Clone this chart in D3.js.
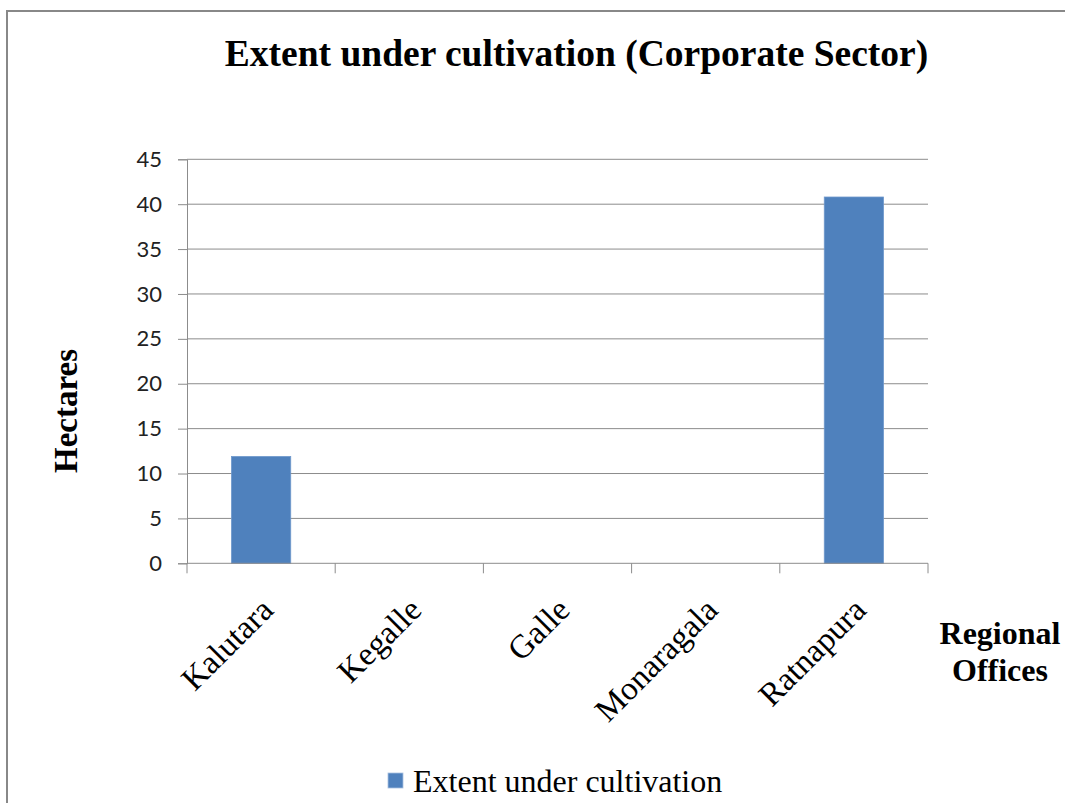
<!DOCTYPE html>
<html>
<head>
<meta charset="utf-8">
<script src="https://cdn.jsdelivr.net/npm/d3@7.9.0/dist/d3.min.js"></script>
<style>
    html, body { margin: 0; padding: 0; background: #fff; }
    svg { display: block; }
</style>
</head>
<body>
<div id="chart"></div>
<script>
const offices = ['Kalutara', 'Kegalle', 'Galle', 'Monaragala', 'Ratnapura'];
const hectares = [11.9, 0, 0, 0, 40.8];
const yTicks = [0, 5, 10, 15, 20, 25, 30, 35, 40, 45];

const width = 1065;
const height = 803;
const plot = { left: 187, right: 928, top: 159.3, bottom: 563.3 };
const barColor = '#4f81bd';
const gridColor = '#8c8c8c';
const serif = '"Liberation Serif", "Times New Roman", serif';

const svg = d3.select('#chart')
    .append('svg')
    .attr('width', width)
    .attr('height', height);

// chart frame
svg.append('rect')
    .attr('x', 7)
    .attr('y', 11)
    .attr('width', width)
    .attr('height', height)
    .attr('fill', 'none')
    .attr('stroke', '#888')
    .attr('stroke-width', 2);

const xCat = d3.scaleBand()
    .domain(offices)
    .range([plot.left, plot.right])
    .padding(0);

const xBar = d3.scaleBand()
    .domain(offices)
    .range([plot.left, plot.right])
    .paddingInner(0.6)
    .paddingOuter(0.3);

const yScale = d3.scaleLinear()
    .domain([0, 45])
    .range([plot.bottom, plot.top]);

// y ticks and labels
const yAxis = svg.append('g')
    .attr('transform', `translate(${plot.left}, 0)`)
    .call(d3.axisLeft(yScale)
        .tickValues(yTicks)
        .tickSize(9)
        .tickPadding(16)
        .tickFormat(d3.format('d')));

yAxis.select('.domain').attr('stroke', gridColor);
yAxis.selectAll('.tick line').attr('stroke', gridColor);
yAxis.selectAll('.tick text')
    .attr('fill', '#222')
    .style('font-family', 'Lato, "Open Sans", sans-serif')
    .style('font-size', '22px');

// horizontal gridlines
svg.append('g')
    .selectAll('line')
    .data(yTicks.filter((d) => d > 0))
    .join('line')
    .attr('x1', plot.left)
    .attr('x2', plot.right)
    .attr('y1', (d) => yScale(d))
    .attr('y2', (d) => yScale(d))
    .attr('stroke', gridColor)
    .attr('stroke-width', 1);

// bars
svg.append('g')
    .selectAll('rect')
    .data(offices.map((name, i) => ({ name, value: hectares[i] })))
    .join('rect')
    .attr('x', (d) => xBar(d.name))
    .attr('y', (d) => yScale(d.value))
    .attr('width', xBar.bandwidth())
    .attr('height', (d) => yScale(0) - yScale(d.value))
    .attr('fill', barColor)
    .attr('stroke', '#6f98cc')
    .attr('stroke-width', 0.8);

// category axis: ticks sit on the boundaries between offices
const bounds = offices.map((d) => xCat(d)).concat([plot.right]);
const xAxis = svg.append('g');

xAxis.append('line')
    .attr('x1', plot.left)
    .attr('x2', plot.right)
    .attr('y1', yScale(0))
    .attr('y2', yScale(0))
    .attr('stroke', gridColor);

xAxis.selectAll('.bound')
    .data(bounds)
    .join('line')
    .attr('class', 'bound')
    .attr('x1', (d) => d)
    .attr('x2', (d) => d)
    .attr('y1', yScale(0))
    .attr('y2', yScale(0) + 10)
    .attr('stroke', gridColor);

xAxis.selectAll('text')
    .data(offices)
    .join('text')
    .attr('transform', (d) => `translate(${xCat(d) + xCat.bandwidth() / 2 + 14}, 612) rotate(-45)`)
    .attr('text-anchor', 'end')
    .style('font-family', serif)
    .style('font-size', '33px')
    .text((d) => d);

// titles
svg.append('text')
    .attr('x', 576.5)
    .attr('y', 66)
    .attr('text-anchor', 'middle')
    .style('font-family', serif)
    .style('font-weight', 'bold')
    .style('font-size', '37.5px')
    .text('Extent under cultivation (Corporate Sector)');

svg.append('text')
    .attr('transform', 'translate(77, 411) rotate(-90)')
    .attr('text-anchor', 'middle')
    .style('font-family', serif)
    .style('font-weight', 'bold')
    .style('font-size', '33px')
    .text('Hectares');

const xTitle = svg.append('text')
    .attr('text-anchor', 'middle')
    .style('font-family', serif)
    .style('font-weight', 'bold')
    .style('font-size', '32px');

xTitle.selectAll('tspan')
    .data(['Regional', 'Offices'])
    .join('tspan')
    .attr('x', 1000)
    .attr('y', (d, i) => 644 + i * 37)
    .text((d) => d);

// legend
const legend = svg.append('g').attr('transform', 'translate(388, 773)');

legend.append('rect')
    .attr('width', 15)
    .attr('height', 15)
    .attr('fill', barColor)
    .attr('stroke', '#a9c0e0')
    .attr('stroke-width', 0.8);

legend.append('text')
    .attr('x', 25)
    .attr('y', 19)
    .style('font-family', serif)
    .style('font-size', '32px')
    .text('Extent under cultivation');
</script>
</body>
</html>
